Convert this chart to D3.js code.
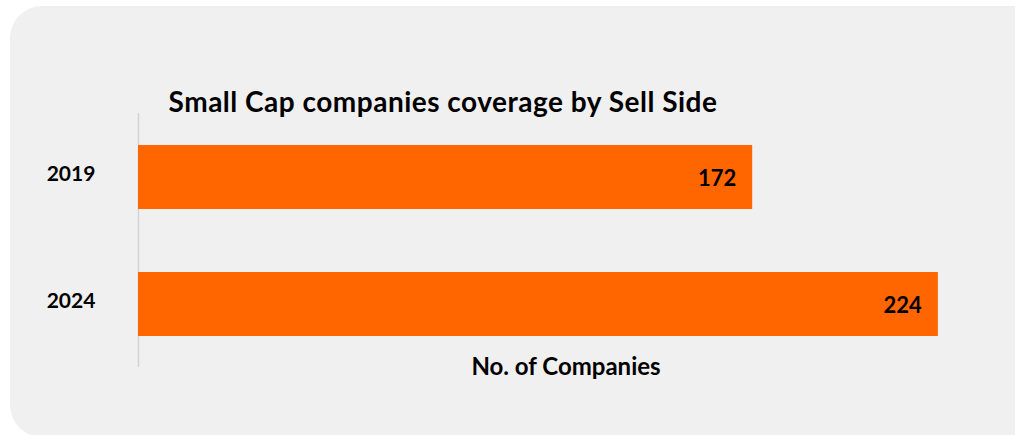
<!DOCTYPE html>
<html>
<head>
<meta charset="utf-8">
<script src="https://cdn.jsdelivr.net/npm/d3@7"></script>
<style>
  html, body { margin: 0; padding: 0; background: #ffffff; }
  svg { display: block; }
  text { font-family: Lato, "Open Sans", sans-serif; font-weight: 700; fill: #000; }
</style>
</head>
<body>
<svg id="chart" width="1015" height="435"></svg>
<script>
// Sell-side coverage of small cap companies
const years = ["2019", "2024"];
const companies = [172, 224];
const chartTitle = "Small Cap companies coverage by Sell Side";
const axisTitle = "No. of Companies";

const svg = d3.select("#chart");

// Panel background
svg.append("rect")
  .attr("x", 10).attr("y", 6)
  .attr("width", 1040).attr("height", 431)
  .attr("rx", 32).attr("ry", 32)
  .attr("fill", "#f0f0f0");

const x = d3.scaleLinear().domain([0, 240]).range([138, 995]);
const y = d3.scaleBand().domain(years).range([145, 336])
  .paddingInner(0.496).paddingOuter(0);

// Category axis line
svg.append("line")
  .attr("x1", 138.5).attr("x2", 138.5)
  .attr("y1", 113).attr("y2", 367)
  .attr("stroke", "#d4d4d4").attr("stroke-width", 1.5);

// Bars
const data = years.map((yr, i) => ({ year: yr, value: companies[i] }));
svg.append("g").selectAll("rect").data(data).join("rect")
  .attr("x", x(0))
  .attr("y", d => y(d.year))
  .attr("width", d => x(d.value) - x(0))
  .attr("height", y.bandwidth())
  .attr("fill", "#ff6600");

// Value labels inside bar ends
svg.append("g").selectAll("text").data(data).join("text")
  .attr("x", d => x(d.value) - 16)
  .attr("y", d => y(d.year) + y.bandwidth() / 2 + 9)
  .attr("text-anchor", "end")
  .attr("font-size", 22)
  .text(d => d.value);

// Year labels
svg.append("g").selectAll("text").data(years).join("text")
  .attr("x", 71)
  .attr("y", d => y(d) + y.bandwidth() / 2 + 4)
  .attr("text-anchor", "middle")
  .attr("font-size", 21)
  .text(d => d);

// Titles
svg.append("text")
  .attr("x", 443).attr("y", 112)
  .attr("text-anchor", "middle")
  .attr("font-size", 28)
  .attr("letter-spacing", 0.5)
  .text(chartTitle);

svg.append("text")
  .attr("x", 566).attr("y", 375)
  .attr("text-anchor", "middle")
  .attr("font-size", 24)
  .text(axisTitle);
</script>
</body>
</html>
